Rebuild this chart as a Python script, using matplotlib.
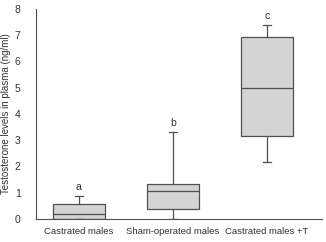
import matplotlib
matplotlib.use('Agg')
import matplotlib.pyplot as plt

plt.rcParams['font.family'] = ['Liberation Sans', 'DejaVu Sans']

# Box statistics (ng/ml)
groups = ['Castrated males', 'Sham-operated males', 'Castrated males +T']
whislo = [0.0, 0.0, 2.16]
q1 = [0.0, 0.38, 3.18]
med = [0.19, 1.06, 5.0]
q3 = [0.57, 1.33, 6.93]
whishi = [0.87, 3.3, 7.39]
letters = ['a', 'b', 'c']

stats = []
for i in range(len(groups)):
    stats.append({'whislo': whislo[i], 'q1': q1[i], 'med': med[i],
                  'q3': q3[i], 'whishi': whishi[i], 'fliers': []})

fig = plt.figure(figsize=(3.26, 2.42), dpi=100)
ax = fig.add_axes([0.110, 0.095, 0.878, 0.868])

pos = [1, 2, 3]
edge = '#505050'
ax.bxp(stats, positions=pos, widths=0.55, patch_artist=True, showfliers=False,
       boxprops=dict(facecolor='#d4d4d4', edgecolor=edge, linewidth=0.9),
       medianprops=dict(color=edge, linewidth=0.9),
       whiskerprops=dict(color=edge, linewidth=0.9),
       capprops=dict(color=edge, linewidth=0.9),
       capwidths=0.08)

for p, top, lab in zip(pos, whishi, letters):
    ax.text(p, top + 0.15, lab, ha='center', va='bottom', fontsize=7.5, color='#333333')

ax.set_xlim(0.543, 3.587)
ax.set_ylim(0, 8)
ax.set_yticks(range(0, 9))
ax.set_xticks(pos)
ax.set_xticklabels(groups, fontsize=6.8, color='#333333')
ax.tick_params(axis='y', labelsize=7.5, length=0, colors='#333333', pad=11)
ax.tick_params(axis='x', length=0, pad=6)
ax.set_ylabel('Testosterone levels in plasma (ng/ml)', fontsize=7, color='#333333', labelpad=3)
for s in ['top', 'right']:
    ax.spines[s].set_visible(False)
ax.spines['left'].set_color(edge)
ax.spines['bottom'].set_color(edge)

fig.savefig('out.png', dpi=100)
